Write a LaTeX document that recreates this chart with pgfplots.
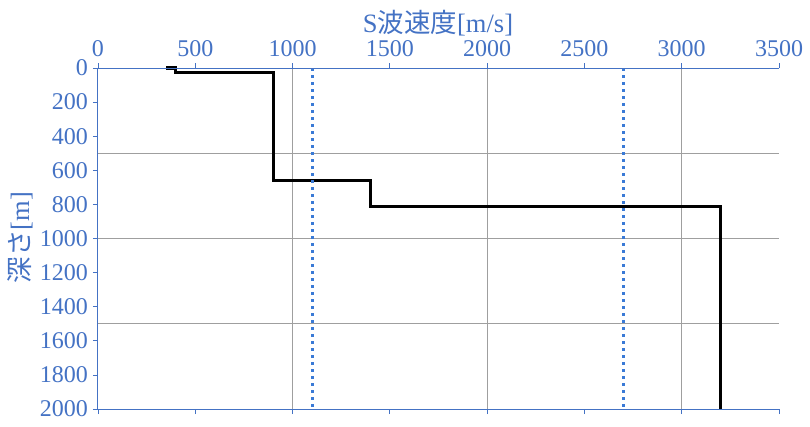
\documentclass[border=0pt]{standalone}
\usepackage{pgfplots}
\pgfplotsset{compat=1.18}
\usepackage{fontspec}
\setmainfont{Liberation Serif}
\newfontfamily\cjk{Noto Sans CJK JP}
\definecolor{tb}{RGB}{68,114,196}
\definecolor{db}{RGB}{58,122,214}
\begin{document}
\begin{tikzpicture}
\useasboundingbox (-98pt,-17pt) rectangle (712pt,409pt);
\begin{axis}[
  at={(0pt,0pt)}, anchor=south west,
  scale only axis, width=681pt, height=341pt,
  xmin=0, xmax=3500, ymin=0, ymax=2000,
  y dir=reverse,
  clip=false,
  xtick={0,500,...,3500}, ytick={0,200,...,2000},
  scaled ticks=false,
  /pgf/number format/1000 sep={},
  /pgf/number format/assume math mode=true,
  xticklabel pos=top,
  xtick pos=both, ytick pos=left,
  tick align=outside,
  major tick length=5pt,
  tick style={tb, line width=0.8pt},
  axis line style={draw=none},
  tick label style={tb, font=\fontsize{24}{28}\selectfont, inner sep=2pt},
  xticklabel style={yshift=4pt},
  yticklabel style={xshift=-3pt},
  extra x ticks={1000,2000,3000},
  extra y ticks={500,1000,1500},
  extra x tick labels={},
  extra y tick labels={},
  extra tick style={grid=major, major tick length=0pt},
  major grid style={gray!75, line width=0.8pt},
]
\addplot[black, line width=3.2pt, line join=miter] coordinates {
  (350,0) (400,0) (400,25) (900,25) (900,660) (1400,660) (1400,810) (3200,810) (3200,2000)
};
\addplot[db, line width=3pt, dash pattern=on 2.7pt off 4.3pt] coordinates {(1100,0) (1100,2000)};
\addplot[db, line width=3pt, dash pattern=on 2.7pt off 4.3pt] coordinates {(2700,0) (2700,2000)};
\draw[tb, line width=1pt] (axis cs:0,2000) -- (axis cs:0,0) -- (axis cs:3500,0);
\draw[tb, line width=1pt] (axis cs:0,2000) -- (axis cs:3500,2000);
\end{axis}
\node[tb, font=\fontsize{26.5}{30}\selectfont] at (340pt,386pt) {S{\cjk 波速度}[m/s]};
\node[tb, font=\fontsize{26.5}{30}\selectfont, rotate=90] at (-78pt,171.5pt) {{\cjk 深さ}[m]};
\end{tikzpicture}
\end{document}
